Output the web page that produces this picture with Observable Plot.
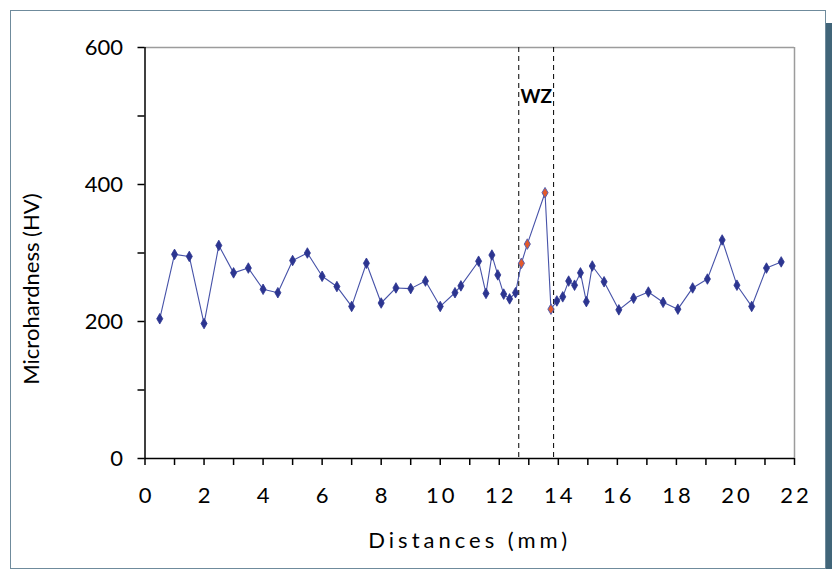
<!DOCTYPE html>
<html><head><meta charset="utf-8">
<script src="https://cdn.jsdelivr.net/npm/d3@7"></script>
<script src="https://cdn.jsdelivr.net/npm/@observablehq/plot@0.6"></script>
<style>
body{margin:0;background:#fff;}
#wrap{position:relative;width:832px;height:569px;overflow:hidden;background:#fff;}
#border{position:absolute;left:10px;top:10px;width:816px;height:559px;border:1px solid #6f8b9c;box-sizing:border-box;}
#bar{position:absolute;left:826px;top:23px;width:6px;height:546px;background:#416579;}
#chart{position:absolute;left:0;top:0;}
</style>
</head><body>
<div id="wrap"><div id="border"></div><div id="bar"></div><div id="chart"></div></div>
<script>
// Data
const distances = [0.5,1,1.5,2,2.5,3,3.5,4,4.5,5,5.5,6,6.5,7,7.5,8,8.5,9,9.5,10,
  10.5,10.7,11.3,11.55,11.75,11.95,12.15,12.35,12.55,12.75,12.95,13.55,13.75,
  13.95,14.15,14.35,14.55,14.75,14.95,15.15,15.55,16.05,16.55,17.05,17.55,18.05,
  18.55,19.05,19.55,20.05,20.55,21.05,21.55];
const hardness = [204,298,295,197,311,271,278,247,242,289,300,266,251,222,285,227,249,248,259,222,
  242,252,288,241,297,268,240,233,242,285,313,388,218,230,236,259,253,271,229,281,
  258,217,234,243,228,218,249,262,319,253,222,278,287];
const wzBounds = [12.66, 13.84];
const wzLabel = ["WZ"];
const xTicks = d3.range(0, 23, 1);
const yTicks = d3.range(0, 601, 100);
const xTitle = ["Distances (mm)"];
const yTitle = ["Microhardness (HV)"];

const rows = distances.map((d, i) => ({d, hv: hardness[i], wz: d > wzBounds[0] && d < wzBounds[1]}));

const chart = Plot.plot({
  width: 832, height: 569,
  marginLeft: 144.5, marginRight: 38, marginTop: 47, marginBottom: 111,
  style: {fontFamily: "Lato, sans-serif", background: "transparent", color: "#000", overflow: "visible"},
  x: {domain: [0, 22]},
  y: {domain: [0, 600]},
  marks: [
    Plot.ruleY([600], {stroke: "#9c9c9c", strokeWidth: 1.5}),
    Plot.ruleX([22], {stroke: "#9c9c9c", strokeWidth: 1.5}),
    Plot.ruleX(wzBounds, {stroke: "#000", strokeWidth: 1, strokeDasharray: "5,4"}),
    Plot.axisX({ticks: xTicks, tickFormat: d => d % 2 === 0 ? String(d) : "", tickSize: 7, tickPadding: 22, fontSize: 22, label: null, stroke: "#000", strokeWidth: 1.5}),
    Plot.axisY({ticks: yTicks, tickFormat: d => d % 200 === 0 ? String(d) : "", tickSize: 7, tickPadding: 15, fontSize: 22, label: null, stroke: "#000", strokeWidth: 1.5}),
    Plot.ruleX([0], {stroke: "#000", strokeWidth: 1.5}),
    Plot.ruleY([0], {stroke: "#000", strokeWidth: 1.5}),
    Plot.line(rows, {x: "d", y: "hv", stroke: "#4652a8", strokeWidth: 1.1}),
    Plot.dot(rows.filter(r => !r.wz), {x: "d", y: "hv", symbol: "diamond", r: 3.2, fill: "#2c3590", stroke: "#2c3590", strokeWidth: 0.8}),
    Plot.dot(rows.filter(r => r.wz), {x: "d", y: "hv", symbol: "diamond", r: 3.2, fill: "#e35a2c", stroke: "#5560b0", strokeWidth: 1}),
    Plot.text(wzLabel, {x: d3.mean(wzBounds), y: 528, text: d => d, fontSize: 19, fontWeight: "bold", fill: "#000"}),
    Plot.text(yTitle, {frameAnchor: "left", text: d => d, textAnchor: "middle", lineAnchor: "middle", dx: -113, dy: 36, rotate: -90, fontSize: 22, fill: "#000"}),
    Plot.text(xTitle, {frameAnchor: "bottom", text: d => d, textAnchor: "middle", dy: 89, fontSize: 22, fill: "#000"})
  ]
});
document.getElementById("chart").appendChild(chart);
d3.select(chart).selectAll("text").filter(function(){ return this.textContent === xTitle[0]; }).style("letter-spacing", "4px");
d3.select(chart).selectAll('g[aria-label="x-axis tick label"] text').style("letter-spacing", "3px").attr("dx", 1.5);
</script>
</body></html>
